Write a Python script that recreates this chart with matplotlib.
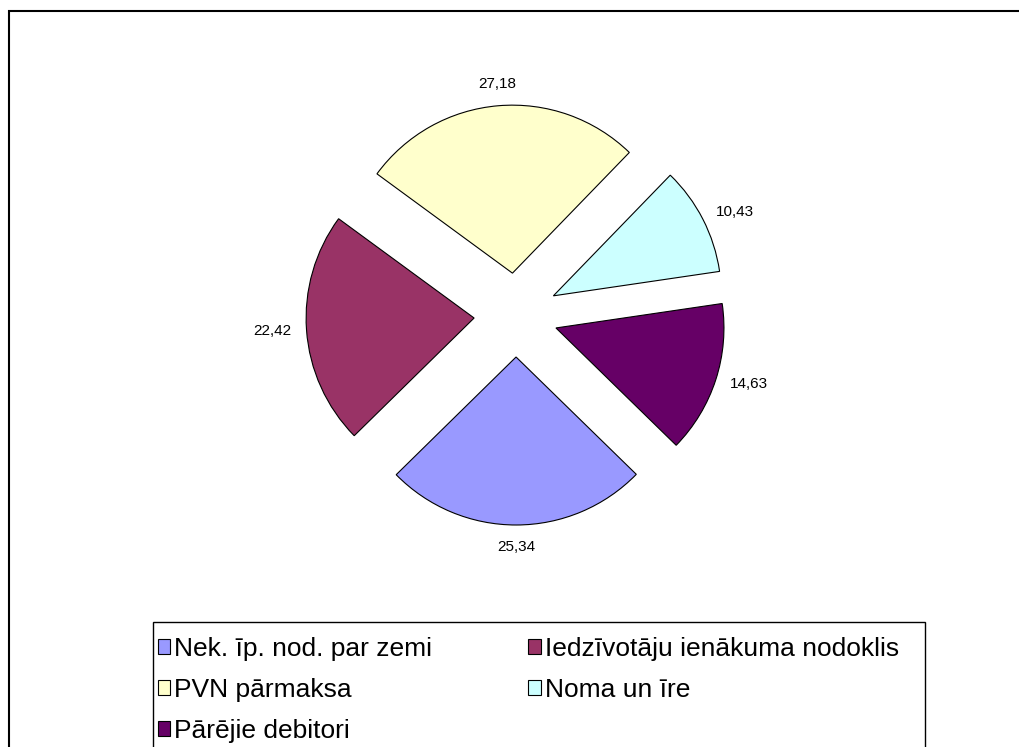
import numpy as np
import matplotlib.pyplot as plt
import matplotlib.patches as mpatches

plt.rcParams['font.family'] = ['Liberation Sans', 'DejaVu Sans']

# slice data, in the order the chart draws them (clockwise)
labels = ['Nek. īp. nod. par zemi', 'Iedzīvotāju ienākuma nodoklis', 'PVN pārmaksa',
          'Noma un īre', 'Pārējie debitori']
values = [25.34, 22.42, 27.18, 10.43, 14.63]
value_text = ['25,34', '22,42', '27,18', '10,43', '14,63']
colors = ['#9999FF', '#993366', '#FFFFCC', '#CCFFFF', '#660066']

W, H = 1020, 747
fig = plt.figure(figsize=(W / 100, H / 100), dpi=100)

# pie centre and radius in pixels
cx, cy, R = 516, 315, 168
L = 1.4
ax = fig.add_axes([(cx - L * R) / W, (H - cy - L * R) / H, 2 * L * R / W, 2 * L * R / H])

explode = [0.25] * len(values)
wedges, _ = ax.pie(values, colors=colors, explode=explode, startangle=-44.3,
                   counterclock=False, radius=1,
                   wedgeprops=dict(edgecolor='black', linewidth=0.8))
ax.set_xlim(-L, L)
ax.set_ylim(-L, L)
ax.set_aspect('equal')
ax.axis('off')

# value labels just outside each exploded slice
for w, txt, ex in zip(wedges, value_text, explode):
    mid = np.deg2rad((w.theta1 + w.theta2) / 2)
    c, s = np.cos(mid), np.sin(mid)
    r = ex + 1.09
    ha = 'left' if c > 0.25 else ('right' if c < -0.25 else 'center')
    va = 'bottom' if s > 0.5 else ('top' if s < -0.5 else 'center')
    ax.text(r * c, r * s, txt, ha=ha, va=va, fontsize=11)

# legend filled row-wise like the original
order = [0, 2, 4, 1, 3]
handles = [mpatches.Patch(facecolor=colors[i], edgecolor='black', linewidth=0.8) for i in order]
leg = fig.legend(handles, [labels[i] for i in order], ncol=2,
                 loc='upper left', bbox_to_anchor=(158 / W, 1 - 637 / H),
                 fontsize=19, frameon=False,
                 handlelength=0.46, handleheight=0.46, handletextpad=0.15,
                 labelspacing=0.64, columnspacing=3.65, borderpad=0, borderaxespad=0)

# legend frame (bottom edge falls outside the image)
fig.patches.append(mpatches.Rectangle((153 / W, -0.05), (925 - 153) / W, 0.05 + 1 - 622 / H,
                                      transform=fig.transFigure, fill=False,
                                      edgecolor='black', linewidth=1.0, clip_on=False))

# outer chart border (only left and top edges fall inside the image)
fig.patches.append(mpatches.Rectangle((9 / W, -0.5), 1.5, 1.5 - 11 / H, transform=fig.transFigure,
                                      fill=False, edgecolor='black', linewidth=1.5, clip_on=False))

fig.savefig('out.png', dpi=100)
